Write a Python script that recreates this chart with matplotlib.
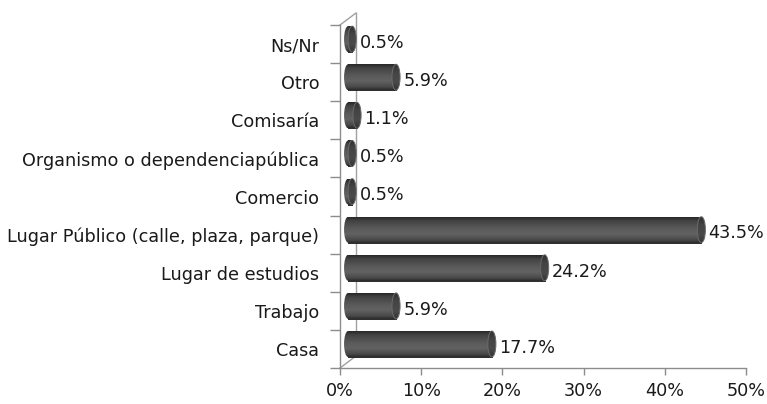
import numpy as np
import matplotlib
matplotlib.use("Agg")
import matplotlib.pyplot as plt
from matplotlib.patches import Rectangle, Ellipse
from matplotlib.colors import LinearSegmentedColormap

# datos (de abajo hacia arriba)
categorias = ["Casa", "Trabajo", "Lugar de estudios",
              "Lugar Público (calle, plaza, parque)", "Comercio",
              "Organismo o dependenciapública", "Comisaría", "Otro", "Ns/Nr"]
porcentajes = [17.7, 5.9, 24.2, 43.5, 0.5, 0.5, 1.1, 5.9, 0.5]
etiquetas = ["17.7%", "5.9%", "24.2%", "43.5%", "0.5%", "0.5%", "1.1%", "5.9%", "0.5%"]
ticks_x = [0, 10, 20, 30, 40, 50]
ticks_x_txt = ["0%", "10%", "20%", "30%", "40%", "50%"]

plt.rcParams['font.family'] = ['DejaVu Sans']
tam = 12.7

fig = plt.figure(figsize=(7.67, 4.04), dpi=100)
ax = fig.add_axes([340/767, 36/404, 406/767, 343/404])

cuerpo = LinearSegmentedColormap.from_list("cil", [
    (0.0, "#2c2c2c"), (0.12, "#4a4a4a"), (0.35, "#626262"),
    (0.55, "#5a5a5a"), (0.85, "#444444"), (1.0, "#282828")])
tapa = LinearSegmentedColormap.from_list("tapa", [
    (0.0, "#333333"), (0.3, "#4a4a4a"), (0.7, "#444444"), (1.0, "#2e2e2e")])
grad = np.linspace(0, 1, 64).reshape(-1, 1)

alto = 0.68
desp_y = 0.13
x0 = 1.0
ancho_tapa = 1.0

for i, v in enumerate(porcentajes):
    yc = i + desp_y
    x1 = v + x0
    # extremo izquierdo
    el = Ellipse((x0, yc), ancho_tapa, alto, facecolor="none", edgecolor="none")
    ax.add_patch(el)
    im = ax.imshow(grad, cmap=cuerpo, extent=(x0 - 0.6, x0 + 0.6, yc + alto/2, yc - alto/2),
                   aspect="auto", zorder=3, interpolation="bilinear")
    im.set_clip_path(el)
    # cuerpo
    r = Rectangle((x0, yc - alto/2), x1 - x0, alto, facecolor="none", edgecolor="none")
    ax.add_patch(r)
    im = ax.imshow(grad, cmap=cuerpo, extent=(x0, x1, yc + alto/2, yc - alto/2),
                   aspect="auto", zorder=3, interpolation="bilinear")
    im.set_clip_path(r)
    ax.plot([x0, x1], [yc - alto/2, yc - alto/2], color="#2a2a2a", lw=0.7, zorder=4)
    ax.plot([x0, x1], [yc + alto/2, yc + alto/2], color="#2a2a2a", lw=0.7, zorder=4)
    # tapa derecha
    et = Ellipse((x1, yc), ancho_tapa, alto, facecolor="none", edgecolor="none")
    ax.add_patch(et)
    im = ax.imshow(grad, cmap=tapa, extent=(x1 - 0.6, x1 + 0.6, yc + alto/2, yc - alto/2),
                   aspect="auto", zorder=5, interpolation="bilinear")
    im.set_clip_path(et)
    ax.add_patch(Ellipse((x1, yc), ancho_tapa, alto, facecolor="none",
                         edgecolor="#6a6a6a", lw=0.7, zorder=6))
    ax.text(x1 + 0.9, yc - 0.1, etiquetas[i], ha="left", va="center",
            fontsize=tam, color="#1a1a1a", zorder=7)

ax.set_xlim(0, 50)
ax.set_ylim(-0.5, len(categorias) - 0.5)

# ejes
for s in ["top", "right"]:
    ax.spines[s].set_visible(False)
for s in ["left", "bottom"]:
    ax.spines[s].set_color("#8c8c8c")
    ax.spines[s].set_linewidth(1.0)

ax.set_yticks(range(len(categorias)))
ax.set_yticklabels(categorias)
ax.set_yticks(np.arange(-0.5, len(categorias), 1.0), minor=True)
ax.tick_params(axis="y", which="major", length=0, pad=15, labelsize=tam, labelcolor="#1a1a1a")
ax.tick_params(axis="y", which="minor", length=7, color="#8c8c8c", width=1.0)
ax.set_xticks(ticks_x)
ax.set_xticklabels(ticks_x_txt)
ax.tick_params(axis="x", length=5, color="#8c8c8c", width=1.0, pad=5,
               labelsize=tam, labelcolor="#1a1a1a")

# pared del fondo (efecto 3D)
dx, dy = 16/406, 12/343
kw = dict(transform=ax.transAxes, color="#a0a0a0", lw=1.0, clip_on=False, zorder=1)
ax.plot([dx, dx], [dy, 1 + dy], **kw)
ax.plot([0, dx], [1, 1 + dy], **kw)
ax.plot([0, dx], [0, dy], **kw)

fig.savefig("out.png", dpi=100, facecolor="white")
